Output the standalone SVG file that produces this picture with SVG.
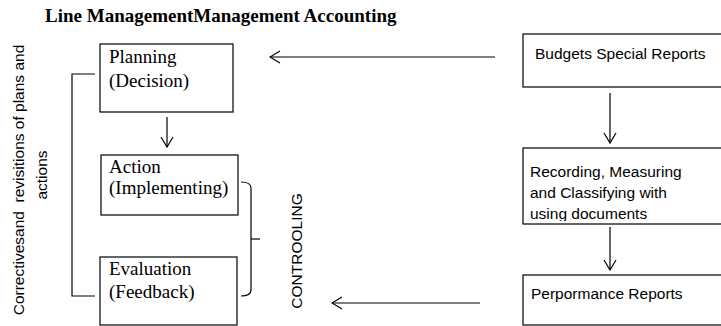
<svg xmlns="http://www.w3.org/2000/svg" width="721" height="326" viewBox="0 0 721 326">
<style>
.box{fill:#fff;stroke:#000;stroke-width:1.2}
.ln{fill:none;stroke:#000;stroke-width:1.2}
.ser{font-family:"Liberation Serif","Times New Roman",serif;font-size:19px;fill:#000}
.san{font-family:"Liberation Sans",Arial,sans-serif;font-size:15.5px;fill:#000}
.title{font-family:"Liberation Serif","Times New Roman",serif;font-size:19px;font-weight:bold;fill:#000}
</style>
<defs>
<marker id="ah" viewBox="-12 -7 13 14" refX="0" refY="0" markerWidth="13" markerHeight="14" markerUnits="userSpaceOnUse" orient="auto">
<path d="M-10,-6 L0,0 L-10,6" fill="none" stroke="#000" stroke-width="1.2"/>
</marker>
<clipPath id="recClip"><rect x="523" y="148" width="199" height="73"/></clipPath>
</defs>
<rect width="721" height="326" fill="#fff"/>
<text class="title" x="45" y="22">Line ManagementManagement Accounting</text>

<g id="planning">
<rect class="box" x="100" y="44" width="133" height="68"/>
<text class="ser" x="109" y="63">Planning</text>
<text class="ser" x="109" y="87">(Decision)</text>
</g>
<g id="action">
<rect class="box" x="101" y="155" width="137" height="60"/>
<text class="ser" x="109" y="173">Action</text>
<text class="ser" x="109" y="194">(Implementing)</text>
</g>
<g id="evaluation">
<rect class="box" x="100" y="257" width="137" height="68"/>
<text class="ser" x="109" y="275">Evaluation</text>
<text class="ser" x="109" y="298">(Feedback)</text>
</g>
<g id="budgets">
<rect class="box" x="523" y="34" width="199" height="53"/>
<text class="san" x="535" y="59">Budgets Special Reports</text>
</g>
<g id="recording">
<rect class="box" x="523" y="148" width="199" height="76"/>
<g clip-path="url(#recClip)">
<text class="san" x="530" y="177">Recording, Measuring</text>
<text class="san" x="530" y="198">and Classifying with</text>
<text class="san" x="530" y="219">using documents</text>
</g>
</g>
<g id="performance">
<rect class="box" x="523" y="275" width="199" height="50"/>
<text class="san" x="531" y="299">Perpormance Reports</text>
</g>
<g id="corrective">
<text class="san" font-size="16" text-anchor="middle" xml:space="preserve" transform="translate(24,180) rotate(-90)">Correctivesand  revisitions of plans and</text>
<text class="san" font-size="16" text-anchor="middle" transform="translate(47,175) rotate(-90)">actions</text>
</g>
<g id="controlling">
<text class="san" font-size="14" text-anchor="middle" transform="translate(302,251) rotate(-90)">CONTROOLING</text>
</g>

<g id="connectors">
<line class="ln" x1="495" y1="57" x2="270" y2="57" marker-end="url(#ah)"/>
<line class="ln" x1="167" y1="117" x2="167" y2="147" marker-end="url(#ah)"/>
<line class="ln" x1="610" y1="93" x2="610" y2="143" marker-end="url(#ah)"/>
<line class="ln" x1="610" y1="227" x2="610" y2="270" marker-end="url(#ah)"/>
<line class="ln" x1="480" y1="303" x2="332" y2="303" marker-end="url(#ah)"/>
<path class="ln" d="M95,74 H72 V296 H95"/>
<path class="ln" d="M241,182 Q251,182 251,188 V290 Q251,296 241,296"/>
<path class="ln" d="M251,239 H260" stroke-width="2"/>
</g>
</svg>
